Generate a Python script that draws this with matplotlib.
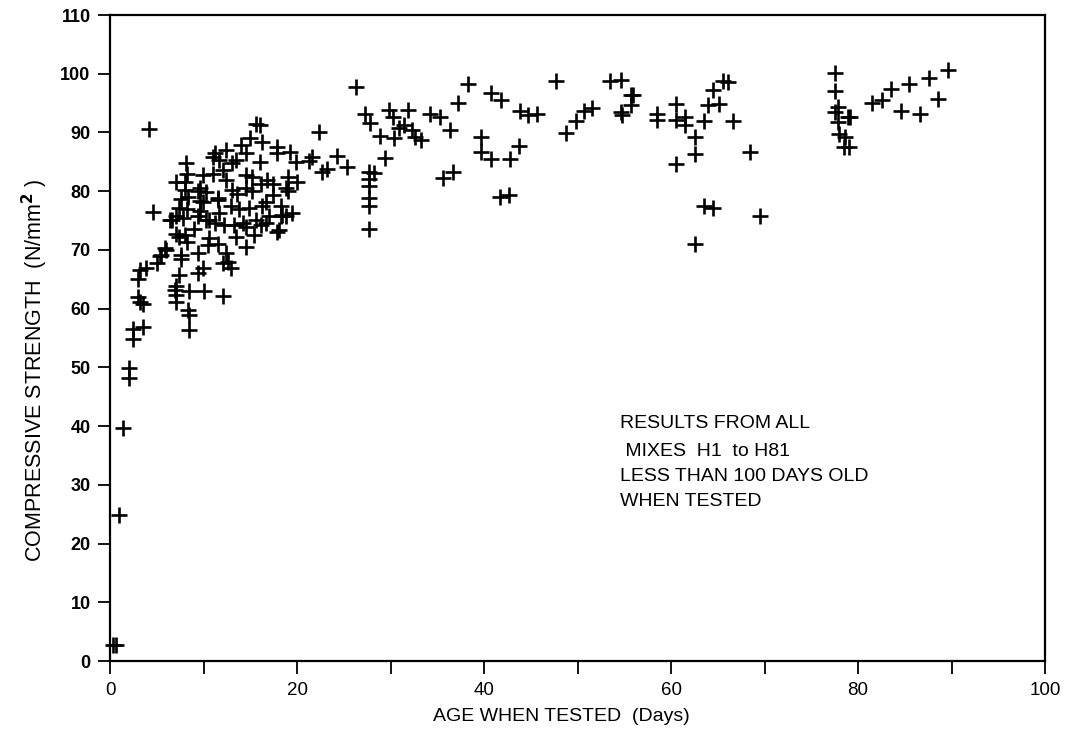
import matplotlib
matplotlib.use("Agg")
import matplotlib.pyplot as plt

plt.rcParams["font.family"] = ["Liberation Sans", "DejaVu Sans"]

# age when tested (days) and compressive strength (N/mm2)
age = [
    0.35, 0.6, 1.0, 1.4, 2.05, 2.05, 2.5, 2.5, 3.5, 3.0, 3.2, 3.5,
    3.0, 3.2, 3.9, 4.15, 4.6, 5.0, 5.5, 6.0, 5.9, 5.3,
    15.6, 16.0, 22.3, 15.0, 16.3, 14.0, 17.9, 11.2, 12.4, 14.5, 19.3, 17.9,
    21.6, 24.3, 25.4, 19.9, 21.3, 23.2, 22.7, 8.1, 11.7, 13.1, 13.5, 16.0,
    8.2, 7.1, 9.9, 11.0, 12.1, 12.4, 14.5, 15.2, 16.8, 19.0, 20.0,
    8.0, 8.0, 9.6, 10.3, 8.3, 7.6, 9.6, 11.5, 13.1, 13.6, 14.5, 15.2, 16.1,
    17.4, 19.0, 12.9, 13.8, 14.9, 16.3, 18.3, 7.4, 8.2, 9.6, 7.1, 6.6, 7.8,
    9.4, 10.6, 11.7, 11.2, 12.2, 13.3, 14.2, 15.6, 17.0, 18.3, 18.8, 19.5,
    16.1, 16.7, 14.5, 9.0, 7.1, 8.0, 8.2, 7.4, 10.6, 13.5, 15.4, 17.9,
    14.5, 10.5, 11.5, 7.6, 9.4, 12.4, 12.6, 12.9, 12.1, 9.9, 9.4, 7.4,
    7.1, 6.9, 7.1, 7.1, 8.5, 10.1, 12.1, 8.3, 8.5, 8.5,
    11.0, 6.4, 11.5, 17.4, 18.8, 18.1, 18.4, 16.7, 9.4, 9.9, 10.3, 7.6,
    26.3, 38.3, 40.8, 41.8, 37.2, 47.7, 27.3, 27.8, 29.8, 30.3, 31.9, 28.9,
    30.4, 30.9, 31.4, 32.3, 32.6, 33.3, 34.2, 35.3, 36.4, 29.4, 27.7, 28.2,
    27.7, 27.7, 27.7, 27.7, 27.7, 35.6, 36.7, 39.7, 39.7, 40.8, 42.8, 43.7,
    41.7, 42.7, 43.8, 44.7, 45.7, 48.8, 49.8, 50.7, 51.6,
    53.5, 54.6, 55.7, 55.9, 55.7, 54.6, 54.8, 58.5, 58.5, 60.5, 60.5, 61.5,
    61.5, 62.6, 62.6, 60.5, 63.5, 64.0, 65.1, 64.5, 65.6, 66.1, 66.6, 68.4,
    63.5, 64.5, 69.5, 62.6,
    77.5, 77.5, 77.9, 77.5, 77.9, 78.9, 79.1, 78.0, 78.6, 78.5, 79.0,
    81.5, 82.6, 83.5, 85.5, 87.6, 89.6, 84.6, 86.6, 88.6,
]
strength = [
    2.7, 2.7, 24.9, 39.6, 49.9, 48.2, 56.6, 54.8, 56.9, 62.0, 61.1, 60.8,
    65.1, 66.6, 66.9, 90.6, 76.5, 67.8, 69.2, 70.0, 70.3, 68.9,
    91.4, 91.3, 90.0, 89.0, 88.4, 87.9, 87.6, 86.5, 87.0, 86.5, 86.6, 86.5,
    85.9, 86.0, 84.2, 85.0, 85.1, 83.7, 83.3, 84.8, 85.3, 84.8, 85.3, 85.0,
    83.0, 81.6, 82.7, 83.0, 83.6, 81.9, 82.7, 82.5, 81.9, 82.4, 81.6,
    81.6, 80.2, 80.5, 79.9, 79.0, 78.7, 78.4, 78.8, 80.2, 79.5, 80.5, 80.0, 81.3,
    79.3, 80.0, 77.5, 77.0, 77.2, 77.5, 77.5, 77.2, 76.9, 76.6, 75.7, 75.1, 75.4,
    75.7, 75.1, 76.2, 74.5, 74.2, 74.2, 74.5, 75.1, 75.7, 75.7, 75.7, 76.2,
    74.2, 74.5, 73.9, 73.6, 72.7, 72.5, 71.3, 72.2, 72.0, 72.2, 72.5, 73.1,
    70.5, 70.8, 71.0, 68.5, 69.4, 69.4, 68.0, 66.9, 67.8, 66.9, 66.0, 65.7,
    63.8, 63.2, 62.4, 61.1, 63.0, 63.0, 62.1, 59.8, 58.9, 56.3,
    85.9, 75.1, 78.5, 81.3, 80.5, 73.4, 75.9, 78.2, 80.0, 78.2, 75.1, 69.1,
    97.8, 98.3, 96.8, 95.5, 95.1, 98.8, 93.2, 91.6, 93.9, 92.6, 93.8, 89.4,
    89.1, 90.7, 91.2, 90.5, 89.2, 88.7, 93.1, 92.6, 90.4, 85.7, 83.3, 83.1,
    82.1, 80.8, 78.9, 77.5, 73.5, 82.3, 83.3, 89.3, 86.7, 85.4, 85.4, 87.7,
    79.0, 79.3, 93.7, 93.0, 93.2, 89.9, 91.9, 93.6, 94.1,
    98.7, 98.9, 96.4, 96.4, 94.7, 93.4, 93.0, 93.2, 92.1, 94.8, 92.1, 92.6,
    91.3, 89.3, 86.4, 84.7, 91.9, 94.7, 94.8, 97.3, 98.7, 98.6, 91.9, 86.6,
    77.5, 77.2, 75.8, 71.0,
    100.1, 97.0, 94.4, 93.5, 91.8, 92.6, 92.6, 89.7, 89.3, 87.5, 87.5,
    95.1, 95.5, 97.4, 98.2, 99.2, 100.7, 93.6, 93.2, 95.7,
]

x_ticks = [0, 20, 40, 60, 80, 100]
y_ticks = list(range(0, 111, 10))

note_lines = [
    "RESULTS FROM ALL",
    " MIXES  H1  to H81",
    "LESS THAN 100 DAYS OLD",
    "WHEN TESTED",
]
note_y = [40.5, 35.6, 31.4, 27.2]

fig = plt.figure(figsize=(10.74, 7.38), dpi=100)
ax = fig.add_axes([110 / 1074, 1 - 661 / 738, 935 / 1074, 646 / 738])

ax.plot(age, strength, linestyle="none", marker="+", color="black",
        markersize=11, markeredgewidth=1.9, clip_on=False)

ax.set_xlim(0, 100)
ax.set_ylim(0, 110)
ax.set_xticks(x_ticks)
ax.set_xticks(range(10, 100, 20), minor=True)
ax.set_yticks(y_ticks)

ax.tick_params(axis="both", which="both", direction="out", length=9,
               width=1.3, color="black", top=False, right=False)
ax.tick_params(axis="x", labelsize=13.5, pad=6)
ax.tick_params(axis="y", labelsize=13, pad=5)
for lbl in ax.get_yticklabels():
    lbl.set_fontweight("bold")

for side in ax.spines.values():
    side.set_linewidth(1.6)

ax.set_xlabel("AGE WHEN TESTED  (Days)", fontsize=14)
ax.xaxis.set_label_coords(0.483, -0.072)
ax.set_ylabel("COMPRESSIVE STRENGTH  (N/mm$^{\\mathbf{2}}$ )", fontsize=15.5)
ax.yaxis.set_label_coords(-0.064, 0.45)

for line, yv in zip(note_lines, note_y):
    ax.text(54.5, yv, line, fontsize=14, ha="left", va="center")

fig.savefig("out.png", dpi=100)
